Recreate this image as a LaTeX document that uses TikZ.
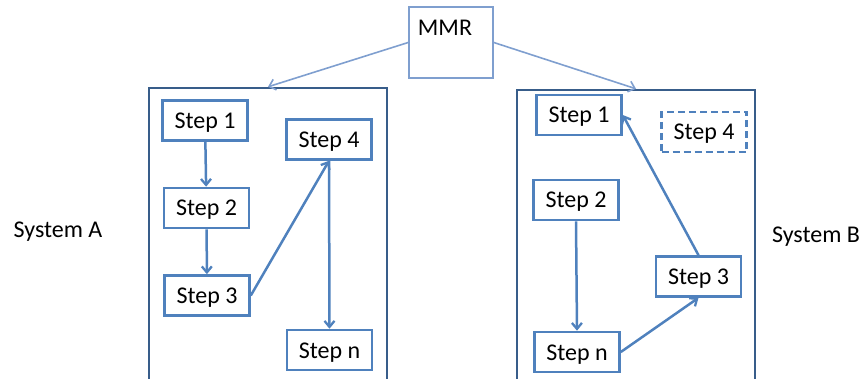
\documentclass[tikz,border=0pt]{standalone}
\usepackage{fontspec}
\setmainfont{Carlito}
\usetikzlibrary{arrows.meta}
\definecolor{stepc}{HTML}{4F81BD}
\definecolor{sysc}{HTML}{385D8A}
\definecolor{mmrc}{HTML}{7F9FCF}
\tikzset{
  txt/.style={font=\fontsize{24}{28}\selectfont, text=black},
  stepbox/.style={draw=stepc, line width=2.6pt, minimum width=85pt, minimum height=40pt, inner sep=0pt, txt, text height=17pt, text depth=1pt},
  dashbox/.style={stepbox, dash pattern=on 7pt off 4pt},
  sysbox/.style={draw=sysc, line width=2.4pt, minimum width=238pt, inner sep=0pt},
  mmrbox/.style={draw=mmrc, line width=1.6pt, minimum width=84pt, minimum height=71pt, inner sep=0pt},
  flow/.style={draw=stepc, line width=2.5pt, -{Straight Barb[length=6pt,width=10pt,line width=2.3pt]}},
  mmrarrow/.style={draw=mmrc, line width=1.6pt, -{Straight Barb[length=6pt,width=11pt,line width=1.6pt]}},
}
\begin{document}
\begin{tikzpicture}[x=1pt,y=-1pt]
\useasboundingbox (0,0) rectangle (864,379);
% MMR
\node[mmrbox] (mmr) at (451,42.5) {};
\node[txt] (mmrtext) at (445,28) {MMR};
% systems
\node[sysbox, minimum height=297pt] (sysA) at (268,236.5) {};
\node[sysbox, minimum height=295pt] (sysB) at (636,237.5) {};
\node[txt] (labA) at (58,232) {System A};
\node[txt] (labB) at (816,237) {System B};
\draw[mmrarrow] (mmr.west) -- (sysA.north);
\draw[mmrarrow] (mmr.east) -- (sysB.north);
% System A steps
\node[stepbox] (A1) at (205,120.5) {Step 1};
\node[stepbox] (A2) at (206.5,208) {Step 2};
\node[stepbox] (A3) at (207,295.5) {Step 3};
\node[stepbox] (A4) at (329,139.5) {Step 4};
\node[stepbox] (An) at (329.5,350) {Step n};
\draw[flow] (A1) -- (A2);
\draw[flow] (A2) -- (A3);
\draw[flow] (A3.east) -- (A4.south);
\draw[flow] (A4.south) -- (An.north);
% System B steps
\node[stepbox] (B1) at (579,115) {Step 1};
\node[dashbox] (B4) at (704,132) {Step 4};
\node[stepbox] (B2) at (576,200) {Step 2};
\node[stepbox] (B3) at (698.5,276.5) {Step 3};
\node[stepbox] (Bn) at (577,352) {Step n};
\draw[flow] (B2.south) -- (Bn.north);
\draw[flow] (Bn.east) -- (B3.south);
\draw[flow] (B3.north) -- (B1.east);
\end{tikzpicture}
\end{document}
